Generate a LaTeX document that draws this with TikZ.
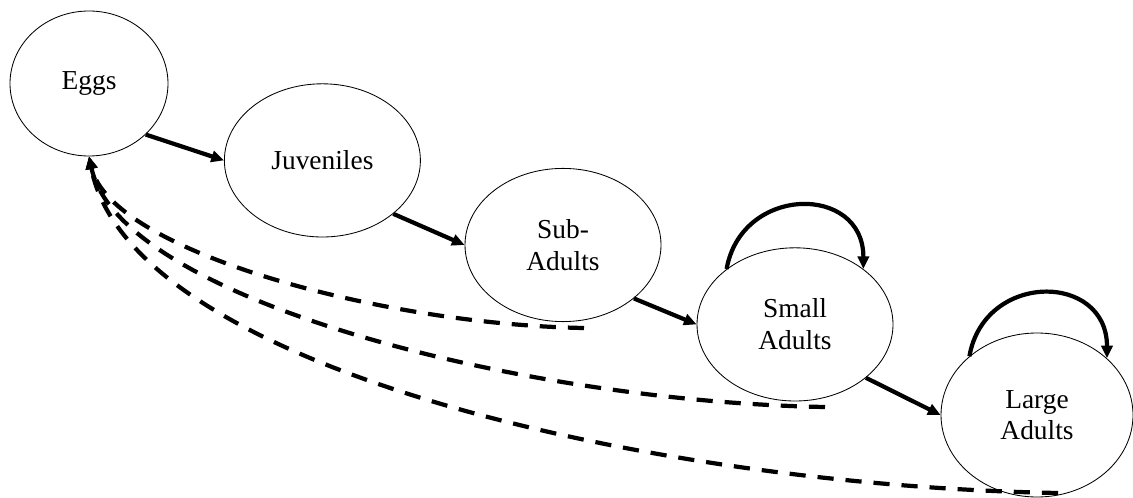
\documentclass[tikz,border=0pt]{standalone}
\usepackage{fontspec}
\setmainfont{Liberation Serif}
\usepackage{tikz}
\usetikzlibrary{arrows.meta,shapes.geometric}

\begin{document}
\begin{tikzpicture}[
  >={Triangle[length=9pt,width=8pt]},
  every node/.style={font=\fontsize{19.5}{22.5}\selectfont},
  stage/.style={draw, ellipse, line width=0.6pt, minimum width=4.9cm, minimum height=3.83cm, align=center, inner sep=0pt},
  arrow/.style={->, line width=3pt},
  fecundity/.style={->, line width=3pt, dash pattern=on 11.5pt off 8.5pt}
]
  \useasboundingbox (0,0) rectangle (28.325,-12.45);

  \node[stage, minimum width=3.95cm, minimum height=3.625cm] (eggs) at (2.225, -2.0875) {Eggs};
  \node[stage]                   (juveniles)   at (8.06, -4.01)    {Juveniles};
  \node[stage]                   (subadults)   at (14.075, -6.125) {Sub-\\Adults};
  \node[stage]                   (smalladults) at (19.875, -8.11)  {Small\\Adults};
  \node[stage, minimum width=4.8cm, minimum height=4.1cm] (largeadults) at (25.925, -10.375) {Large\\Adults};

  \coordinate (subtail)   at (14.6, -8.2);
  \coordinate (smalltail) at (20.625, -10.175);
  \coordinate (largetail) at (26.45, -12.325);


  \draw[arrow] (eggs.-42) -- (juveniles.west);
  \draw[arrow] (juveniles.-37) -- (subadults.west);
  \draw[arrow] (subadults.-37) -- (smalladults.west);
  \draw[arrow] (smalladults.-37) -- (largeadults.west);


  \draw[arrow] (smalladults.141) to[out=80,in=90,looseness=1.6] (smalladults.39);
  \draw[arrow] (largeadults.139) to[out=80,in=90,looseness=1.6] (largeadults.39);


  \draw[fecundity] (subtail) to[out=179,in=-77,in looseness=0.47] (eggs.south);
  \draw[fecundity] (smalltail) to[out=179,in=-78,in looseness=0.48] (eggs.south);
  \draw[fecundity] (largetail) to[out=179,in=-79,in looseness=0.54] (eggs.south);
\end{tikzpicture}
\end{document}
